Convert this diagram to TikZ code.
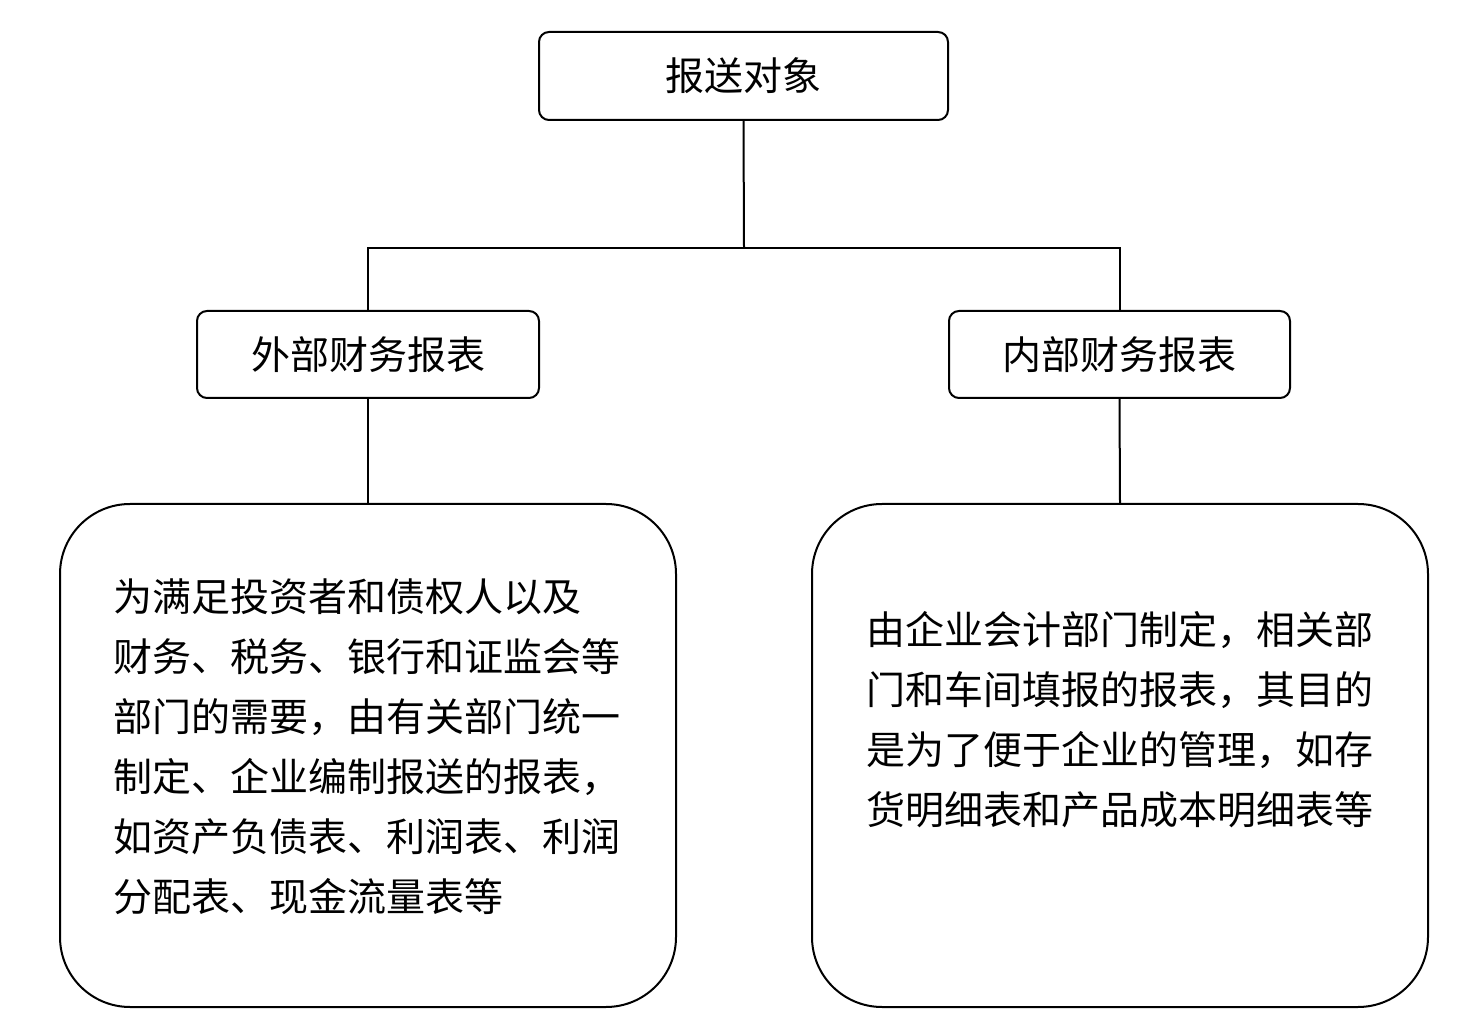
\documentclass[tikz,border=0pt]{standalone}
\usepackage{fontspec}
\newfontfamily\cjk{Noto Sans CJK SC}
\begin{document}
\begin{tikzpicture}[x=0.5pt,y=-0.5pt,
  box/.style={draw, line width=1pt, rounded corners=5pt, font=\cjk\fontsize{19.5pt}{23pt}\selectfont, inner sep=0pt},
  bigbox/.style={draw, line width=1pt, rounded corners=35pt, minimum width=308pt, minimum height=251.5pt, inner sep=0pt},
  txt/.style={font=\cjk\fontsize{19.5pt}{30pt}\selectfont, align=left, anchor=north west, inner sep=0pt},
  conn/.style={line width=1pt}]
\useasboundingbox (0,0) rectangle (1483,1036);
\node[box, minimum width=204.5pt, minimum height=44pt] (top) at (743.5,76) {报送对象};
\node[box, minimum width=171pt, minimum height=43.5pt] (L) at (368,354.5) {外部财务报表};
\node[box, minimum width=170.5pt, minimum height=43.5pt] (R) at (1119.5,354.5) {内部财务报表};
\node[bigbox] (LB) at (368,755.5) {};
\node[bigbox] (RB) at (1120,755.5) {};
\coordinate (j) at (744,248);
\draw[conn] (top.south) -- (j);
\draw[conn] (L.north) -- (L.north |- j) -- (R.north |- j) -- (R.north);
\draw[conn] (L.south) -- (LB.north);
\draw[conn] (R.south) -- (RB.north);
\node[txt] (LT) at (113,578) {为满足投资者和债权人以及\\财务、税务、银行和证监会等\\部门的需要，由有关部门统一\\制定、企业编制报送的报表，\\如资产负债表、利润表、利润\\分配表、现金流量表等};
\node[txt] (RT) at (866,611) {由企业会计部门制定，相关部\\门和车间填报的报表，其目的\\是为了便于企业的管理，如存\\货明细表和产品成本明细表等};
\end{tikzpicture}
\end{document}
